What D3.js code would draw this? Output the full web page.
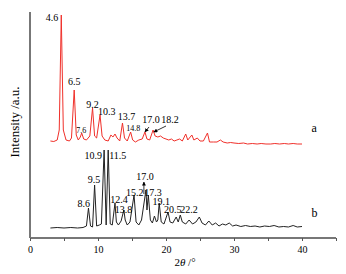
<!DOCTYPE html>
<html>
<head>
<meta charset="utf-8">
<script src="https://cdn.jsdelivr.net/npm/d3@7"></script>
<style>
  body { margin: 0; background: #fff; }
  svg text { font-family: "Liberation Serif", "Times New Roman", "DejaVu Serif", serif !important; }
</style>
</head>
<body>
<div id="graph_container"></div>
<script>
// XRD patterns: [2theta, intensity (a.u., stacked)]
var traceA = [
  [3.0, 97], [3.5, 96.5], [4.0, 98], [4.3, 108], [4.6, 223], [4.9, 108], [5.3, 98], [5.8, 97],
  [6.1, 100], [6.5, 148], [6.8, 103], [7.1, 98], [7.4, 101], [7.6, 105], [7.9, 99], [8.3, 98],
  [8.8, 102], [9.2, 130], [9.5, 102], [9.8, 100], [10.3, 123], [10.6, 102], [11.0, 98], [11.5, 97],
  [11.9, 103], [12.2, 101], [12.5, 104], [12.8, 100], [13.2, 97], [13.6, 115], [13.9, 100], [14.3, 97],
  [14.8, 106], [15.1, 98], [15.5, 96], [16.0, 98], [16.5, 99], [16.9, 106], [17.2, 99], [17.6, 98],
  [18.1, 108], [18.4, 102], [18.8, 101], [19.2, 102], [19.6, 100], [20.0, 99], [20.4, 98], [20.8, 99],
  [21.2, 97], [21.6, 98], [22.0, 99], [22.4, 97], [22.9, 104], [23.2, 98], [23.8, 103], [24.1, 98],
  [24.6, 100], [25.0, 97], [25.5, 97], [26.1, 105], [26.4, 96], [27.0, 96], [27.5, 96], [28.0, 98],
  [28.4, 96], [29.0, 95], [29.5, 95.5], [30.0, 95], [30.7, 94.5], [31.4, 95], [32.0, 94], [32.7, 94.5],
  [33.4, 94], [34.0, 94.5], [34.7, 94], [35.4, 94], [36.0, 94.5], [36.7, 94], [37.4, 94.5], [38.0, 94],
  [38.7, 94.5], [39.3, 94], [40.0, 94]
];

var traceB = [
  [3.0, 10], [4.0, 10.5], [5.0, 10], [6.0, 10.5], [7.0, 10], [7.8, 10.5], [8.3, 12], [8.6, 30],
  [8.9, 12], [9.2, 11], [9.5, 53], [9.8, 12], [10.2, 13], [10.5, 14], [10.9, 88], [11.2, 13],
  [11.5, 88], [11.8, 14], [12.1, 13], [12.5, 35], [12.7, 16], [13.0, 13], [13.4, 17], [13.8, 28],
  [14.0, 18], [14.3, 13], [14.7, 16], [15.3, 43], [15.6, 16], [16.0, 13], [16.4, 18], [17.05, 48],
  [17.2, 28], [17.4, 43], [17.7, 18], [18.0, 15], [18.3, 22], [18.6, 16], [18.8, 18], [19.0, 35],
  [19.3, 16], [19.7, 14], [20.0, 20], [20.3, 26], [20.6, 16], [21.0, 15], [21.5, 21], [21.8, 16],
  [22.1, 23], [22.4, 16], [22.9, 14], [23.4, 18], [23.9, 14], [24.4, 16], [24.9, 21], [25.3, 15],
  [25.8, 13], [26.3, 17], [26.8, 13], [27.3, 15], [27.8, 12], [28.3, 14], [28.8, 13], [29.3, 15],
  [29.8, 12], [30.3, 13], [31.0, 11.5], [31.7, 12.5], [32.4, 11.5], [33.1, 12], [33.8, 11], [34.5, 12],
  [35.2, 11.5], [35.9, 12.5], [36.6, 11], [37.3, 11.5], [38.0, 11], [38.7, 12.5], [39.3, 11], [40.0, 11.5]
];

// peak labels: text, 2theta and intensity of the label anchor
var labelsA = [
  ["4.6", 3.25, 217], ["6.5", 6.5, 153], ["9.2", 9.2, 130], ["10.3", 11.3, 123],
  ["13.7", 14.2, 118], ["17.0", 17.8, 115], ["18.2", 20.6, 115]
];
var smallLabelsA = [["7.6", 7.55, 105.5], ["14.8", 15.2, 107]];
var labelsB = [
  ["10.9", 9.3, 79], ["11.5", 12.9, 79], ["9.5", 9.4, 55], ["8.6", 7.9, 31],
  ["12.4", 13.1, 35], ["13.8", 13.75, 25], ["15.2", 15.4, 42.5], ["17.0", 16.9, 58],
  ["17.3", 18.1, 42.5], ["19.1", 19.3, 33], ["20.5", 21.0, 25], ["22.2", 23.4, 25]
];
// arrows: from [2theta, I] to [2theta, I]
var arrows = [
  [[17.5, 111], [16.9, 106]],
  [[20.0, 112], [18.2, 106]],
  [[16.75, 44], [16.75, 56]]
];
var xTicks = [0, 10, 20, 30, 40];
var xMinor = [5, 15, 25, 35, 45];

var margin = {top: 12, right: 10, bottom: 36, left: 30},
    w = 346 - margin.left - margin.right,
    h = 274 - margin.top - margin.bottom;

var xScale = d3.scaleLinear().domain([0, 45]).range([0, w]);
var yScale = d3.scaleLinear().domain([0, 226]).range([h, 0]);

var svg = d3.select("#graph_container").append("svg")
    .attr("width", 346)
    .attr("height", 274)
    .append("g")
        .attr("transform", "translate(" + margin.left + "," + margin.top + ")");

svg.append("defs").append("marker")
    .attr("id", "arr")
    .attr("viewBox", "0 0 10 10")
    .attr("refX", 9).attr("refY", 5)
    .attr("markerWidth", 5).attr("markerHeight", 5)
    .attr("orient", "auto")
    .append("path")
        .attr("d", "M0,0L10,5L0,10z")
        .attr("fill", "#000");

var line = d3.line()
    .x(function(d) { return xScale(d[0]); })
    .y(function(d) { return yScale(d[1]); });

svg.append("path")
    .datum(traceA)
    .attr("d", line)
    .attr("fill", "none")
    .attr("stroke", "#f0302a")
    .attr("stroke-width", 1);

svg.append("path")
    .datum(traceB)
    .attr("d", line)
    .attr("fill", "none")
    .attr("stroke", "#222")
    .attr("stroke-width", 1);

//x axis
var xAxis = svg.append("g")
    .attr("transform", "translate(0," + h + ")")
    .call(d3.axisBottom(xScale).tickValues(xTicks.concat(xMinor)).tickSize(3)
        .tickFormat(function(d) { return xTicks.indexOf(d) >= 0 ? d : ""; }));
xAxis.attr("font-family", null);
xAxis.select(".domain").attr("stroke", "#777").attr("stroke-width", 2).attr("d", "M0,0H" + w);
xAxis.selectAll(".tick line").attr("stroke", "#555");
xAxis.selectAll(".tick text")
    .attr("y", 8)
    .style("font-size", "10px")
    .attr("fill", "#000");

//y axis (no ticks)
svg.append("line")
    .attr("x1", 0).attr("x2", 0)
    .attr("y1", 0).attr("y2", h)
    .attr("stroke", "#777")
    .attr("stroke-width", 2);

svg.append("text")
    .attr("transform", "translate(" + (w / 2 + 2) + "," + (h + 28) + ")")
    .style("text-anchor", "middle")
    .style("font-size", "11px")
    .html('2<tspan font-style="italic">θ</tspan> /°');

svg.append("text")
    .attr("transform", "rotate(-90)")
    .attr("x", -(h / 2) + 3)
    .attr("y", -11)
    .style("text-anchor", "middle")
    .style("font-size", "13px")
    .text("Intensity /a.u.");

function addLabels(arr, size) {
  svg.selectAll(null)
      .data(arr)
      .enter()
      .append("text")
          .attr("x", function(d) { return xScale(d[1]); })
          .attr("y", function(d) { return yScale(d[2]); })
          .style("text-anchor", "middle")
          .style("font-size", size)
          .text(function(d) { return d[0]; });
}
addLabels(labelsA, "10px");
addLabels(smallLabelsA, "8px");
addLabels(labelsB, "10px");

svg.selectAll(null)
    .data(arrows)
    .enter()
    .append("line")
        .attr("x1", function(d) { return xScale(d[0][0]); })
        .attr("y1", function(d) { return yScale(d[0][1]); })
        .attr("x2", function(d) { return xScale(d[1][0]); })
        .attr("y2", function(d) { return yScale(d[1][1]); })
        .attr("stroke", "#000")
        .attr("stroke-width", 0.8)
        .attr("marker-end", "url(#arr)");

svg.append("text")
    .attr("x", xScale(41.4)).attr("y", yScale(106))
    .style("font-size", "12px")
    .text("a");
svg.append("text")
    .attr("x", xScale(41.4)).attr("y", yScale(21))
    .style("font-size", "12px")
    .text("b");
</script>
</body>
</html>
